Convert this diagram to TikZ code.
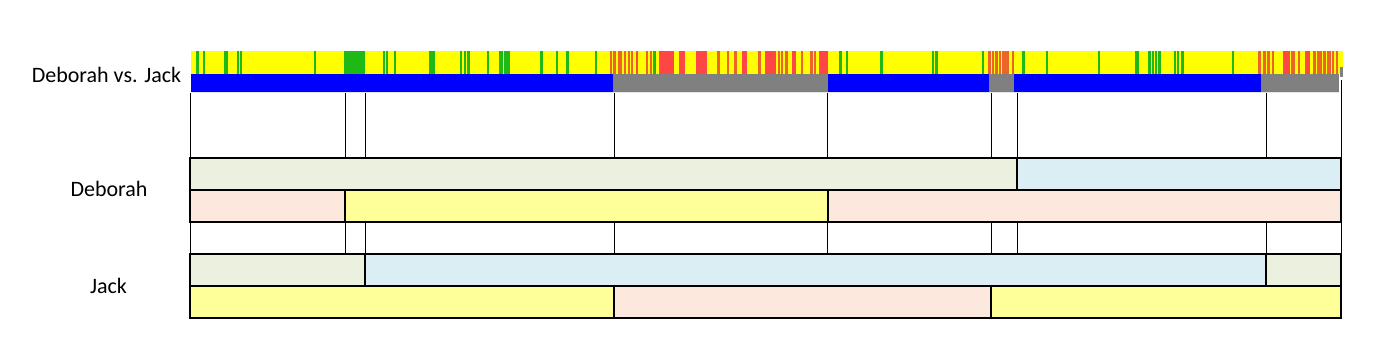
\documentclass[tikz,border=0pt]{standalone}
\usepackage{fontspec}
\setmainfont{Carlito}
\definecolor{bandyellow}{RGB}{255,255,0}
\definecolor{bandgreen}{RGB}{30,185,20}
\definecolor{bandred}{RGB}{255,70,70}
\definecolor{bandorange}{RGB}{235,100,40}
\definecolor{bandblue}{RGB}{0,0,255}
\definecolor{bandgray}{RGB}{128,128,128}
\definecolor{palegreen}{RGB}{235,241,222}
\definecolor{paleblue}{RGB}{218,238,243}
\definecolor{palepeach}{RGB}{252,232,220}
\definecolor{paleyellow}{RGB}{255,255,153}
\tikzset{
  lbl/.style={font=\fontsize{22}{26}\selectfont, anchor=base, inner sep=0pt},
  seg/.style={draw=black, line width=2pt},
  tick/.style={draw=black, line width=1pt},
}
\begin{document}
\begin{tikzpicture}[x=1pt,y=-1pt]
\useasboundingbox[fill=white] (0,0) rectangle (1392,363);
% labels
\node[lbl] (lblvs) at (106.5,83) {Deborah vs. Jack};
\node[lbl] (lbldeb) at (109,197) {Deborah};
\node[lbl] (lbljack) at (108.5,294) {Jack};
% top band
\fill[bandyellow] (190.7,51) rectangle (1343,74);
\foreach \a/\b in {196/198.7,203/204.3,224/227.3,237/238.3,240.3/242,314/315.3,344/364.3,383.3/384.5,386/387.2,394.3/395.5,429.3/432.3,433.3/434.5,460/461.3,464.3/465.5,467.3/469.3,487.3/489,499.3/502.7,504.7/510,540.7/542.3,556/557.3,566.7/568.3,595.3/596.7,653.3/655.3,839.3/841.3,846.7/848,880.7/882.3,932.3/934,935.7/937.3,982/983.3,1022.7/1024.3,1046/1047.7,1098.7/1100,1135.5/1138.5,1148.5/1150.7,1152.5/1153.8,1155.5/1156.8,1158.7/1160.7,1174/1175.3,1177.3/1178.7,1181.3/1183.3,1232.3/1233.5}
  \fill[bandgreen] (\a-0.4,51) rectangle (\b+0.4,74);
\foreach \a/\b in {610.3/612,613.7/615.3,618.7/622,624.3/626,628/629.3,631.3/632.7,646/647.3,650.7/652,717/719.7,727/728.7,734.7/737,758.7/760.3,778/779.3,781.3/782.7,785.7/787.3,801.3/802.7,810.7/812.3,814/815.7,988.3/990.3,992/994,995.3/997.3,999/1001,1002.3/1004.3,1005.7/1008.3,1012.3/1013.7,1258.3/1260.5,1263/1265.3,1267.3/1269.3,1272.5/1274,1291.7/1294.5,1298/1299.7,1313/1315.3,1317/1321.5,1323/1325.5,1327.3/1330.7,1332/1334,1336.3/1338}
  \fill[bandorange] (\a-0.4,51) rectangle (\b+0.4,74);
\foreach \a/\b in {636/638,659.3/673.7,679.3/684.7,696/707,742.7/747,765.7/775.7,792.3/795.7,819/827.3,1283/1290,1305.5/1310}
  \fill[bandred] (\a-0.3,51) rectangle (\b+0.3,74);
% blue/gray band
\fill[bandblue] (190.7,74) rectangle (612.7,92);
\fill[bandgray] (612.7,74) rectangle (827.5,92);
\fill[bandblue] (827.5,74) rectangle (989,92);
\fill[bandgray] (989,74) rectangle (1013.5,92);
\fill[bandblue] (1013.5,74) rectangle (1260.7,92);
\fill[bandgray] (1260.7,74) rectangle (1338.7,92);
\draw[paleblue!60!gray!40, line width=0.8pt] (190.7,92.5) -- (1338.7,92.5);
\fill[bandgray] (1340.3,67) rectangle (1343,77.5);
% thin verticals
\foreach \x in {190.5,345.7,365.5,614.3,827.7,991.7,1017.2,1266.7}
  \draw[tick] (\x,93.5) -- (\x,158);
\draw[tick] (1341,80) -- (1341,158);
\foreach \x in {190.5,345.7,365.5,614.3,827.7,991.7,1017.2,1266.7,1341}
  \draw[tick] (\x,222) -- (\x,254);
% Deborah rows
\filldraw[seg, fill=palegreen] (190,158) rectangle (1017,190);
\filldraw[seg, fill=paleblue] (1017,158) rectangle (1341,190);
\filldraw[seg, fill=palepeach] (190,190) rectangle (345,222);
\filldraw[seg, fill=paleyellow] (345,190) rectangle (828,222);
\filldraw[seg, fill=palepeach] (828,190) rectangle (1341,222);
% Jack rows
\filldraw[seg, fill=palegreen] (190,254) rectangle (365,286);
\filldraw[seg, fill=paleblue] (365,254) rectangle (1266,286);
\filldraw[seg, fill=palegreen] (1266,254) rectangle (1341,286);
\filldraw[seg, fill=paleyellow] (190,286) rectangle (614,318);
\filldraw[seg, fill=palepeach] (614,286) rectangle (991,318);
\filldraw[seg, fill=paleyellow] (991,286) rectangle (1341,318);
\end{tikzpicture}
\end{document}
